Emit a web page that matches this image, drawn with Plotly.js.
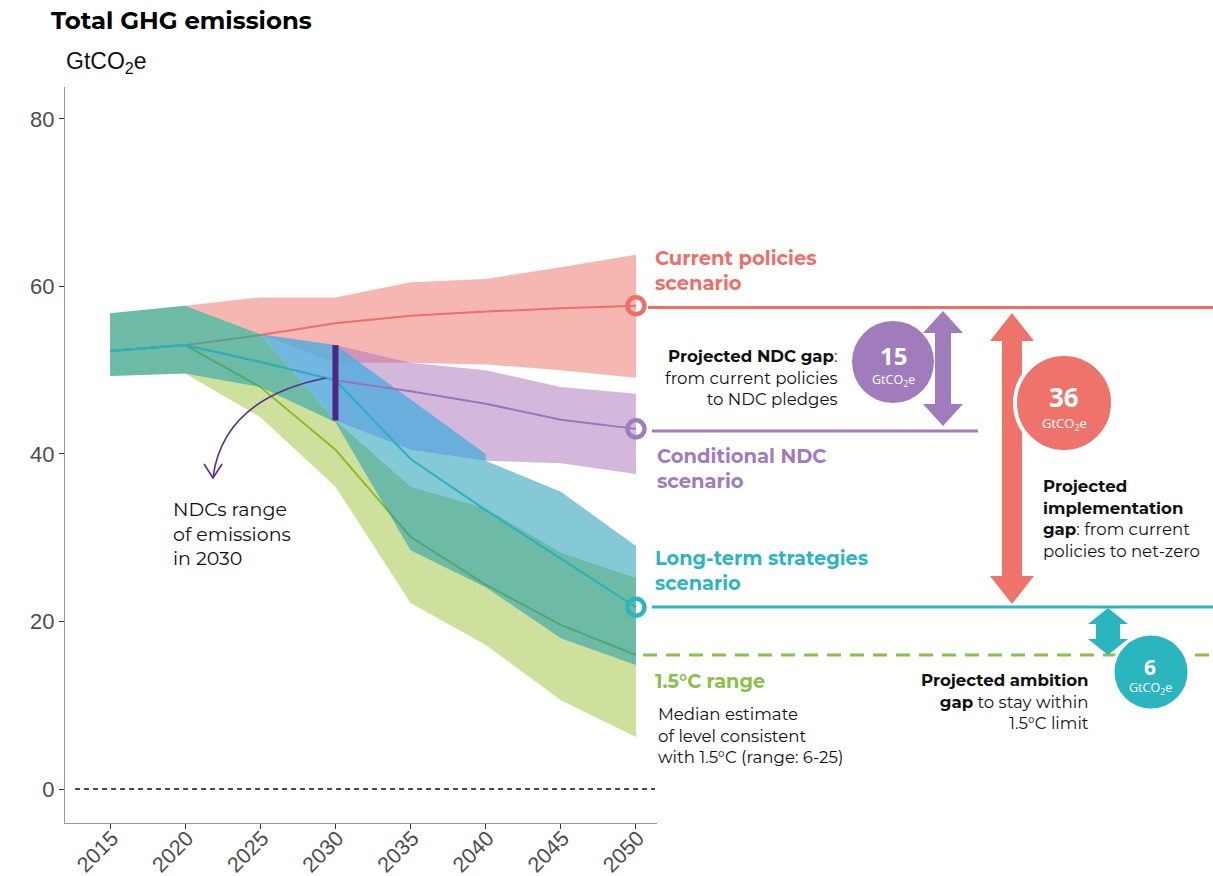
<!DOCTYPE html>
<html><head><meta charset="utf-8">
<script src="https://cdn.plot.ly/plotly-3.0.1.min.js"></script>
<style>html,body{margin:0;padding:0;background:#fff}</style>
</head><body>
<div id="chart" style="width:1213px;height:876px"></div>
<script>
// ---------- data ----------
const years = [2015, 2020, 2025, 2030, 2035, 2040, 2045, 2050];
const xTickLabels = ['2015','2020','2025','2030','2035','2040','2045','2050'];
const yTickVals = [0, 20, 40, 60, 80];

// Current policies scenario (from 2020)
const cpYears = [2020, 2025, 2030, 2035, 2040, 2045, 2050];
const cpUpper = [57.7, 58.7, 58.7, 60.5, 60.9, 62.3, 63.8];
const cpLower = [57.7, 54.3, 50.9, 50.9, 50.7, 50.0, 49.1];
const cpMedian = [52.3, 53.0, 54.2, 55.6, 56.5, 57.0, 57.4, 57.7];

// Conditional NDC scenario (from 2030)
const ndcYears = [2030, 2035, 2040, 2045, 2050];
const ndcUpper = [53.0, 50.9, 50.0, 48.0, 47.2];
const ndcLower = [44.0, 40.5, 39.2, 38.9, 37.6];
const ndcMedian = [52.3, 53.0, 51.0, 48.8, 47.5, 46.0, 44.1, 43.0];

// Long-term strategies: range continuing from the upper end of 2030 NDCs
const ltsHiYears = [2025, 2030, 2035, 2040];
const ltsHiUpper = [54.3, 53.0, 46.5, 40.0];
const ltsHiLower = [54.3, 44.0, 40.5, 39.2];

// Long-term strategies scenario
const ltsUpper = [56.8, 57.7, 54.3, 44.0, 40.5, 39.2, 35.5, 29.0];
const ltsLower = [49.3, 49.6, 48.0, 43.8, 28.5, 24.1, 18.0, 14.8];
const ltsMedian = [52.3, 53.0, 51.0, 48.8, 39.4, 33.3, 27.5, 21.7];

// 1.5°C range
const p15Upper = [56.8, 57.7, 54.3, 44.0, 36.1, 33.5, 28.2, 25.2];
const p15Lower = [49.3, 49.6, 44.4, 36.1, 22.2, 17.2, 10.6, 6.2];
const p15Median = [52.3, 53.0, 48.0, 40.5, 30.1, 24.4, 19.6, 16.0];

// NDC range of emissions in 2030
const ndc2030Range = [44.0, 53.0];

// gap values
const gapNDC = 15, gapImpl = 36, gapAmb = 6;

// ---------- helpers ----------
const W = 1213, H = 876;
const fx = p => p / W;
const fy = p => 1 - p / H;
function band(xs, up, lo, color, name) {
  return { x: xs.concat(xs.slice().reverse()), y: up.concat(lo.slice().reverse()),
    type: 'scatter', mode: 'lines', fill: 'toself', fillcolor: color,
    line: { width: 0 }, hoverinfo: 'skip', showlegend: false, name: name };
}
function line(xs, ys, color, w) {
  return { x: xs, y: ys, type: 'scatter', mode: 'lines', line: { color: color, width: w || 2 },
    hoverinfo: 'skip', showlegend: false };
}
function pathStr(pts) {
  return 'M ' + pts.map(p => fx(p[0]).toFixed(5) + ',' + fy(p[1]).toFixed(5)).join(' L ') + ' Z';
}
function dblArrow(cx, t, b, Wh, h, w) {
  return pathStr([[cx, t], [cx + Wh, t + h], [cx + w, t + h], [cx + w, b - h], [cx + Wh, b - h], [cx, b],
    [cx - Wh, b - h], [cx - w, b - h], [cx - w, t + h], [cx - Wh, t + h]]);
}
function circ(cx, cy, r, fill, lc, lw) {
  return { type: 'circle', xref: 'paper', yref: 'paper', x0: fx(cx - r), x1: fx(cx + r), y0: fy(cy + r), y1: fy(cy - r),
    fillcolor: fill, line: { color: lc || fill, width: lw || 0 }, layer: 'above' };
}

const RED = '#ee6f67', PUR = '#a07cbc', CYA = '#2bb5bf', GRN = '#8dc04a';

const traces = [
  band(cpYears, cpUpper, cpLower, 'rgba(238,111,103,0.5)', 'cp'),
  line(years, cpMedian, RED, 2),
  band(ndcYears, ndcUpper, ndcLower, 'rgba(169,113,185,0.5)', 'ndc'),
  band(ltsHiYears, ltsHiUpper, ltsHiLower, 'rgba(87,171,221,0.85)', 'ltsHi'),
  line(years, ndcMedian, '#9a74b8', 2),
  band(years, p15Upper, p15Lower, 'rgba(155,193,57,0.5)', 'p15'),
  line(years, p15Median, '#8dbd2a', 2),
  band(years, ltsUpper, ltsLower, 'rgba(21,152,178,0.52)', 'lts'),
  line(years, ltsMedian, '#25b3be', 2),
  { x: [2030, 2030], y: ndc2030Range, type: 'scatter', mode: 'lines', line: { color: '#4f2683', width: 6 },
    hoverinfo: 'skip', showlegend: false },
  { x: [2050, 2050, 2050], y: [cpMedian[7], ndcMedian[7], ltsMedian[7]], type: 'scatter', mode: 'markers',
    marker: { symbol: 'circle-open', size: 17, color: [RED, PUR, CYA], line: { width: 4.5, color: [RED, PUR, CYA] } },
    hoverinfo: 'skip', showlegend: false }
];

const MF = 'Montserrat, Inter, sans-serif';
const OF = '"Open Sans", sans-serif';
function ann(x, y, text, size, color, xanchor, extra) {
  return Object.assign({ xref: 'paper', yref: 'paper', x: fx(x), y: fy(y), text: text, showarrow: false,
    xanchor: xanchor || 'left', yanchor: 'middle', align: xanchor === 'right' ? 'right' : (xanchor === 'center' ? 'center' : 'left'),
    font: { family: MF, size: size, color: color } }, extra || {});
}
function cann(x, y, text, size) {
  return ann(x, y, text, size, '#fff', 'center', { font: { family: OF, size: size, color: '#fff' } });
}

const annotations = [
  ann(49, 20, '<b>Total GHG emissions</b>', 24.4, '#000'),
  ann(64, 62, 'GtCO<sub>2</sub>e', 23, '#111', 'left', { font: { family: 'Liberation Sans, Arial, sans-serif', size: 23, color: '#111' } }),
  ann(653, 271, '<b>Current policies<br>scenario</b>', 19.5, RED),
  ann(655, 468, '<b>Conditional NDC<br>scenario</b>', 19.5, PUR),
  ann(653, 570, '<b>Long-term strategies<br>scenario</b>', 19.3, CYA),
  ann(653, 681, '<b>1.5°C range</b>', 19.3, GRN),
  ann(656, 735, 'Median estimate<br>of level consistent<br>with 1.5°C (range: 6-25)', 16.6, '#111'),
  ann(171, 534, 'NDCs range<br>of emissions<br>in 2030', 19, '#111'),
  ann(840, 378, '<b>Projected NDC gap</b>:<br>from current policies<br>to NDC pledges', 16.6, '#111', 'right'),
  ann(1041, 518, '<b>Projected<br>implementation<br>gap</b>: from current<br>policies to net-zero', 16.6, '#111'),
  ann(1091, 701, '<b>Projected ambition<br>gap</b> to stay within<br>1.5°C limit', 16.6, '#111', 'right'),
  cann(893, 356, '<b>' + gapNDC + '</b>', 24),
  cann(893, 380, 'GtCO<sub>2</sub>e', 12.5),
  cann(1064, 397, '<b>' + gapImpl + '</b>', 26),
  cann(1064, 424, 'GtCO<sub>2</sub>e', 13),
  cann(1150, 667, '<b>' + gapAmb + '</b>', 21),
  cann(1150, 688, 'GtCO<sub>2</sub>e', 12.5)
];

const shapes = [
  { type: 'line', xref: 'x', yref: 'y', x0: 2012.67, x1: 2051.27, y0: 0, y1: 0, line: { color: '#111', width: 1.5, dash: '5px,4px' }, layer: 'above' },
  { type: 'line', xref: 'paper', yref: 'y', x0: fx(648), x1: 1, y0: 57.5, y1: 57.5, line: { color: RED, width: 3 } },
  { type: 'line', xref: 'paper', yref: 'y', x0: fx(652), x1: fx(978), y0: 42.75, y1: 42.75, line: { color: PUR, width: 3 } },
  { type: 'line', xref: 'paper', yref: 'y', x0: fx(652), x1: 1, y0: 21.73, y1: 21.73, line: { color: CYA, width: 3 } },
  { type: 'line', xref: 'paper', yref: 'y', x0: fx(643), x1: 1, y0: 16.0, y1: 16.0, line: { color: GRN, width: 3, dash: '14px,9px' } },
  { type: 'path', xref: 'paper', yref: 'paper', path: dblArrow(943, 311, 426, 20, 22, 8), fillcolor: PUR, line: { width: 0 }, layer: 'above' },
  { type: 'path', xref: 'paper', yref: 'paper', path: dblArrow(1012, 313, 604, 22, 28, 10), fillcolor: '#ee736b', line: { width: 0 }, layer: 'above' },
  { type: 'path', xref: 'paper', yref: 'paper', path: dblArrow(1108, 608, 655, 20, 16, 12), fillcolor: CYA, line: { width: 0 }, layer: 'above' },
  circ(893, 362, 41, PUR),
  circ(1064, 403, 49, '#ee736b', '#fff', 4),
  circ(1151, 672, 38, CYA, '#fff', 3),
  { type: 'path', xref: 'paper', yref: 'paper',
    path: 'M ' + fx(326) + ',' + fy(378) + ' Q ' + fx(224) + ',' + fy(398) + ' ' + fx(213) + ',' + fy(477),
    line: { color: '#5b2d8c', width: 1.6 }, layer: 'above' },
  { type: 'path', xref: 'paper', yref: 'paper',
    path: 'M ' + fx(204) + ',' + fy(464) + ' L ' + fx(213) + ',' + fy(478) + ' L ' + fx(222) + ',' + fy(464),
    line: { color: '#5b2d8c', width: 1.6 }, layer: 'above' }
];

const layout = {
  width: W, height: H, margin: { l: 0, r: 0, t: 0, b: 0 },
  paper_bgcolor: '#fff', plot_bgcolor: '#fff', showlegend: false,
  xaxis: { domain: [65 / W, 657 / W], range: [2012.0, 2051.4], tickvals: years, ticktext: xTickLabels,
    tickangle: -45, ticks: 'outside', ticklen: 5, tickcolor: '#333', showline: true, linecolor: '#999', linewidth: 1.2,
    ticklabelstandoff: -12, ticklabelshift: 2,
    showgrid: false, zeroline: false, tickfont: { family: 'Liberation Sans, Arial, sans-serif', size: 21.5, color: '#4d4d4d' } },
  yaxis: { domain: [53 / H, 789 / H], range: [-4.06, 83.82], tickvals: yTickVals, ticks: 'outside', ticklen: 5,
    tickcolor: '#333', showline: true, linecolor: '#999', linewidth: 1.2, showgrid: false, zeroline: false,
    tickfont: { family: 'Liberation Sans, Arial, sans-serif', size: 22, color: '#4d4d4d' } },
  annotations: annotations, shapes: shapes
};

Plotly.newPlot('chart', traces, layout, { staticPlot: true, displayModeBar: false });
</script>
</body></html>
